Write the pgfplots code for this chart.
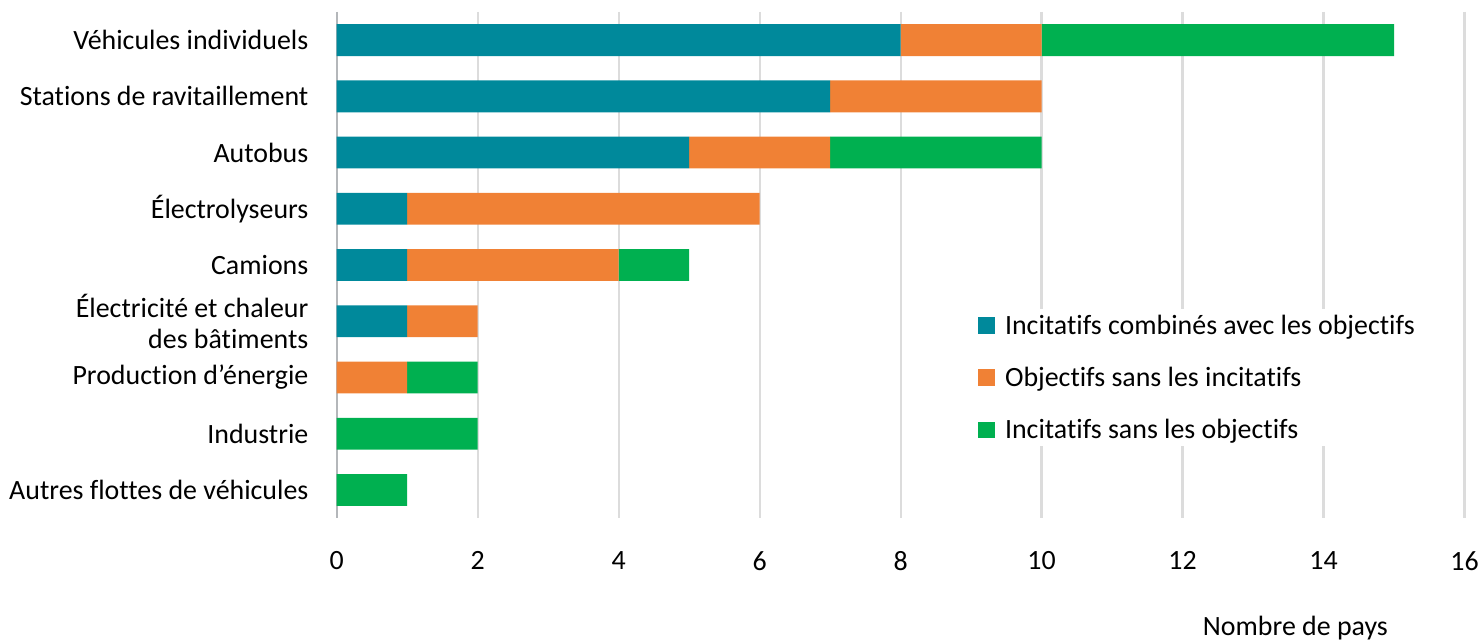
\documentclass[border=0pt]{standalone}
\usepackage{pgfplots}
\pgfplotsset{compat=1.18}
\usepackage{fontspec}
\setmainfont{Carlito}[Ligatures={NoCommon}]
\definecolor{cteal}{HTML}{00899B}
\definecolor{corange}{HTML}{F08135}
\definecolor{cgreen}{HTML}{00B050}
\definecolor{cgrid}{HTML}{DCDCDC}
\definecolor{caxis}{HTML}{B4B7BA}
\begin{document}
\begin{tikzpicture}[font=\fontsize{28pt}{31pt}\selectfont]
\begin{axis}[
  scale only axis, width=1132pt, height=508pt,
  xbar stacked, bar width=0.567,
  xmin=0, xmax=16, ymin=-0.5, ymax=8.5, y dir=reverse,
  xtick={0,2,...,16}, ytick={0,...,8},
  yticklabels={Véhicules individuels, Stations de ravitaillement, Autobus, Électrolyseurs, Camions, {Électricité et chaleur\\des bâtiments}, Production d’énergie, Industrie, Autres flottes de véhicules},
  yticklabel style={align=right, anchor=east, xshift=-25pt},
  xticklabel style={anchor=center, yshift=-43pt},
  xmajorgrids, grid style={cgrid, line width=2.3pt},
  axis line style={draw=none},
  major tick length=0pt,
  /pgf/number format/assume math mode=true,
  extra x ticks={0}, extra x tick labels={},
  extra x tick style={grid style={caxis, line width=2.3pt}},
  xlabel={Nombre de pays},
  xlabel style={at={(axis description cs:0.85,0)}, anchor=center, yshift=-110pt},
  legend style={at={(axis cs:9.04,4.78)}, anchor=north west, draw=none, fill=white,
     row sep=27.5pt, cells={anchor=west}, inner sep=4pt,
     /tikz/every odd column/.append style={column sep=8pt}},
  legend image code/.code={\fill[#1] (0pt,-8.5pt) rectangle (17pt,8.5pt);},
]
\addplot[fill=cteal, draw=none] coordinates {(8,0) (7,1) (5,2) (1,3) (1,4) (1,5) (0,6) (0,7) (0,8)};
\addplot[fill=corange, draw=none] coordinates {(2,0) (3,1) (2,2) (5,3) (3,4) (1,5) (1,6) (0,7) (0,8)};
\addplot[fill=cgreen, draw=none] coordinates {(5,0) (0,1) (3,2) (0,3) (1,4) (0,5) (1,6) (2,7) (1,8)};
\legend{Incitatifs combinés avec les objectifs, Objectifs sans les incitatifs, Incitatifs sans les objectifs}
\end{axis}
\path (current axis.south west) ++(-338pt,-121pt) rectangle ++(1482pt,641pt);
\end{tikzpicture}
\end{document}
